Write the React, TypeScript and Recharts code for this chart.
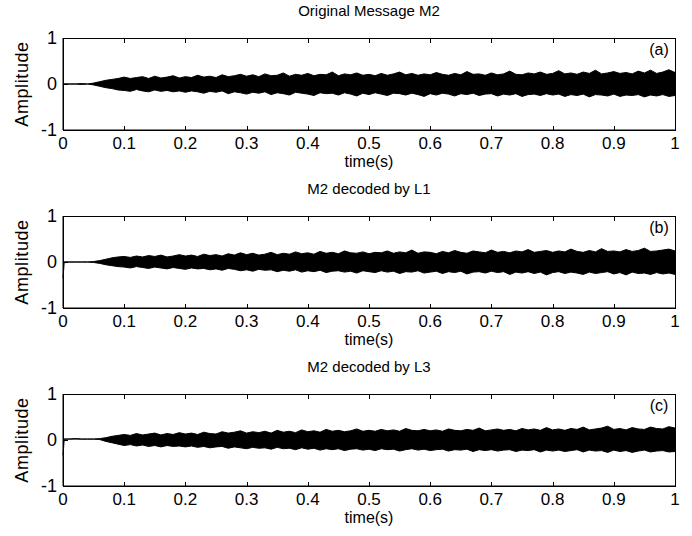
import React from 'react';
import { ComposedChart, Area, XAxis, YAxis } from 'recharts';

// envelope of the signal, one value every 0.01 s (t = 0 ... 1)
const hiA = [
  0, 0, 0, 0.01, 0, 0.02, 0.05, 0.08, 0.1, 0.12,
  0.15, 0.12, 0.14, 0.16, 0.12, 0.17, 0.13, 0.15, 0.18, 0.13,
  0.16, 0.14, 0.19, 0.15, 0.17, 0.14, 0.2, 0.16, 0.18, 0.21,
  0.17, 0.2, 0.16, 0.22, 0.18, 0.19, 0.24, 0.17, 0.21, 0.19,
  0.23, 0.18, 0.21, 0.2, 0.26, 0.18, 0.22, 0.2, 0.24, 0.19,
  0.21, 0.18, 0.23, 0.19, 0.22, 0.26, 0.2, 0.23, 0.19, 0.22,
  0.2, 0.25, 0.21, 0.19, 0.23, 0.2, 0.27, 0.21, 0.22, 0.19,
  0.24, 0.2, 0.22, 0.28, 0.21, 0.2, 0.24, 0.22, 0.26, 0.21,
  0.23, 0.29, 0.22, 0.24, 0.21, 0.26, 0.23, 0.3, 0.22, 0.24,
  0.27, 0.23, 0.25, 0.22, 0.28, 0.24, 0.3, 0.23, 0.26, 0.31,
  0.25,
];
const loA = [
  0, 0, 0, -0.01, 0, -0.02, -0.05, -0.08, -0.1, -0.13,
  -0.14, -0.16, -0.12, -0.15, -0.17, -0.13, -0.16, -0.14, -0.17, -0.15,
  -0.18, -0.15, -0.17, -0.2, -0.16, -0.18, -0.15, -0.21, -0.17, -0.19,
  -0.22, -0.18, -0.2, -0.17, -0.23, -0.19, -0.21, -0.24, -0.18, -0.2,
  -0.22, -0.25, -0.19, -0.21, -0.2, -0.24, -0.19, -0.22, -0.26, -0.2,
  -0.23, -0.19, -0.22, -0.25, -0.2, -0.21, -0.24, -0.2, -0.23, -0.27,
  -0.21, -0.24, -0.2, -0.22, -0.26, -0.21, -0.23, -0.2, -0.25, -0.22,
  -0.21, -0.26, -0.22, -0.24, -0.21, -0.27, -0.23, -0.22, -0.25, -0.21,
  -0.24, -0.22, -0.27, -0.23, -0.25, -0.22, -0.28, -0.23, -0.24, -0.26,
  -0.22, -0.27, -0.24, -0.25, -0.23, -0.28, -0.24, -0.26, -0.23, -0.27,
  -0.25,
];

const hiB = [
  0, 0, 0, 0, 0, 0.01, 0.03, 0.06, 0.09, 0.11,
  0.12, 0.1, 0.13, 0.11, 0.14, 0.12, 0.15, 0.11, 0.13, 0.16,
  0.13, 0.15, 0.12, 0.17, 0.14, 0.16, 0.13, 0.18, 0.15, 0.2,
  0.16, 0.19, 0.15, 0.17, 0.21, 0.16, 0.19, 0.17, 0.22, 0.18,
  0.2, 0.17, 0.23, 0.19, 0.21, 0.18, 0.24, 0.2, 0.19, 0.22,
  0.18, 0.21, 0.2, 0.24, 0.19, 0.22, 0.2, 0.26, 0.19, 0.22,
  0.21, 0.18, 0.23, 0.2, 0.25, 0.21, 0.19, 0.24, 0.22, 0.2,
  0.26, 0.21, 0.23, 0.2, 0.24, 0.22, 0.27, 0.21, 0.23, 0.25,
  0.21, 0.24, 0.22, 0.28, 0.23, 0.21, 0.25, 0.22, 0.29, 0.23,
  0.24, 0.22, 0.27, 0.23, 0.25, 0.3, 0.23, 0.24, 0.26, 0.28,
  0.24,
];
const loB = [
  -0.35, 0, 0, 0, 0, -0.01, -0.03, -0.06, -0.08, -0.1,
  -0.11, -0.13, -0.1, -0.12, -0.14, -0.11, -0.13, -0.15, -0.12, -0.14,
  -0.16, -0.13, -0.15, -0.14, -0.17, -0.15, -0.18, -0.14, -0.16, -0.19,
  -0.17, -0.2, -0.16, -0.18, -0.17, -0.21, -0.18, -0.2, -0.17, -0.22,
  -0.19, -0.21, -0.18, -0.23, -0.2, -0.19, -0.22, -0.2, -0.24, -0.19,
  -0.21, -0.23, -0.19, -0.22, -0.2, -0.25, -0.21, -0.22, -0.19, -0.24,
  -0.22, -0.2, -0.25, -0.21, -0.23, -0.2, -0.26, -0.22, -0.21, -0.24,
  -0.2, -0.23, -0.21, -0.27, -0.22, -0.24, -0.21, -0.25, -0.22, -0.28,
  -0.23, -0.21, -0.25, -0.22, -0.24, -0.27, -0.22, -0.25, -0.23, -0.21,
  -0.26, -0.23, -0.28, -0.22, -0.25, -0.24, -0.27, -0.23, -0.26, -0.24,
  -0.27,
];

const hiC = [
  0, 0.02, 0.03, 0.02, 0.02, 0.02, 0.03, 0.05, 0.08, 0.1,
  0.12, 0.1, 0.14, 0.11, 0.13, 0.15, 0.11, 0.14, 0.12, 0.16,
  0.13, 0.15, 0.12, 0.17, 0.14, 0.13, 0.18, 0.15, 0.17, 0.2,
  0.15, 0.18, 0.16, 0.19, 0.15, 0.21, 0.17, 0.19, 0.16, 0.22,
  0.18, 0.2, 0.17, 0.23, 0.19, 0.21, 0.18, 0.2, 0.24, 0.19,
  0.21, 0.19, 0.23, 0.2, 0.22, 0.19, 0.25, 0.21, 0.2, 0.23,
  0.2, 0.22, 0.19, 0.24, 0.21, 0.2, 0.23, 0.21, 0.26, 0.2,
  0.22, 0.24, 0.21, 0.23, 0.2, 0.25, 0.22, 0.24, 0.21, 0.27,
  0.22, 0.24, 0.21, 0.25, 0.23, 0.28, 0.22, 0.24, 0.26, 0.3,
  0.23, 0.25, 0.22, 0.27, 0.24, 0.23, 0.28, 0.25, 0.24, 0.29,
  0.26,
];
const loC = [
  -0.33, 0.02, 0.02, 0.02, 0.02, 0.02, 0.01, -0.03, -0.06, -0.09,
  -0.12, -0.1, -0.13, -0.11, -0.14, -0.12, -0.15, -0.12, -0.14, -0.13,
  -0.15, -0.13, -0.16, -0.14, -0.17, -0.15, -0.14, -0.18, -0.15, -0.17,
  -0.19, -0.16, -0.18, -0.17, -0.2, -0.16, -0.19, -0.18, -0.21, -0.17,
  -0.2, -0.18, -0.22, -0.19, -0.21, -0.19, -0.23, -0.2, -0.19, -0.22,
  -0.2, -0.23, -0.19, -0.21, -0.2, -0.24, -0.21, -0.19, -0.22, -0.2,
  -0.23, -0.21, -0.2, -0.24, -0.21, -0.22, -0.2, -0.25, -0.21, -0.23,
  -0.21, -0.24, -0.22, -0.21, -0.25, -0.22, -0.23, -0.21, -0.26, -0.22,
  -0.24, -0.22, -0.25, -0.23, -0.21, -0.26, -0.22, -0.24, -0.23, -0.27,
  -0.22, -0.25, -0.23, -0.27, -0.24, -0.22, -0.26, -0.24, -0.23, -0.26,
  -0.25,
];

const xTicks = [0, 0.1, 0.2, 0.3, 0.4, 0.5, 0.6, 0.7, 0.8, 0.9, 1];
const yTicks = [-1, 0, 1];

const FONT = '"Liberation Sans", Arial, sans-serif';

// plot box geometry
const LEFT = 63;
const RIGHT = 675;
const BOX_W = RIGHT - LEFT;
const BOX_H = 92;
const CHART_H = 178;

const buildData = (hi: number[], lo: number[]) => {
  const rows = hi.map((h, i) => ({ t: i / 100, range: [lo[i], h] }));
  // the start-up spike is a single sample, keep it narrow
  if (lo[0] < -0.1) {
    rows.splice(1, 0, { t: 0.002, range: [lo[1], hi[1]] });
  }
  return rows;
};

const BottomTick = (props: any) => {
  const { x, y, payload } = props;
  return (
    <text x={x} y={y + 13} textAnchor="middle" dominantBaseline="central" fontSize={17} fontFamily={FONT} fill="#000">
      {String(payload.value)}
    </text>
  );
};

const LeftTick = (props: any) => {
  const { x, y, payload } = props;
  return (
    <text x={x - 6} y={y} textAnchor="end" dominantBaseline="central" fontSize={18} fontFamily={FONT} fill="#000">
      {String(payload.value)}
    </text>
  );
};

// axes frame with MATLAB-style inward ticks, laid over the plot box
const Frame: React.FC<{ top: number }> = ({ top }) => {
  const mark = (l: number, t: number, w: number, h: number, key: string) => (
    <div key={key} style={{ position: 'absolute', left: l, top: t, width: w, height: h, background: '#000' }} />
  );
  return (
    <>
      <div
        style={{
          position: 'absolute',
          left: LEFT,
          top,
          width: BOX_W + 1,
          height: BOX_H + 1,
          border: '1px solid #000',
          boxSizing: 'border-box',
          pointerEvents: 'none',
        }}
      />
      {xTicks.map((v) => mark(Math.round(LEFT + v * BOX_W), top, 1, 5, `t${v}`))}
      {xTicks.map((v) => mark(Math.round(LEFT + v * BOX_W), top + BOX_H - 4, 1, 5, `b${v}`))}
      {yTicks.map((v) => mark(LEFT, Math.round(top + BOX_H / 2 - (v * BOX_H) / 2), 5, 1, `l${v}`))}
      {yTicks.map((v) => mark(RIGHT - 4, Math.round(top + BOX_H / 2 - (v * BOX_H) / 2), 5, 1, `r${v}`))}
    </>
  );
};

interface PanelProps {
  top: number;
  title: string;
  tag: string;
  hi: number[];
  lo: number[];
}

const Panel: React.FC<PanelProps> = ({ top, title, tag, hi, lo }) => {
  const data = buildData(hi, lo);
  const chartTop = top - 38;
  const mid = (LEFT + RIGHT) / 2;
  return (
    <>
      <div style={{ position: 'absolute', left: 0, top: chartTop }}>
        <ComposedChart
          width={692}
          height={CHART_H}
          data={data}
          margin={{ top: 38, left: LEFT - 40, right: 692 - RIGHT, bottom: CHART_H - 38 - BOX_H - 30 }}
        >
          <XAxis
            dataKey="t"
            type="number"
            domain={[0, 1]}
            ticks={xTicks}
            height={30}
            tickSize={0}
            tickMargin={0}
            tickLine={false}
            tick={<BottomTick />}
            axisLine={{ stroke: '#000' }}
            interval={0}
          />
          <YAxis
            type="number"
            domain={[-1, 1]}
            ticks={yTicks}
            width={40}
            tickSize={0}
            tickMargin={0}
            tickLine={false}
            tick={<LeftTick />}
            axisLine={{ stroke: '#000' }}
            interval={0}
          />
          <Area
            type="linear"
            dataKey="range"
            stroke="#000"
            strokeWidth={1}
            fill="#000"
            fillOpacity={1}
            dot={false}
            activeDot={false}
            isAnimationActive={false}
          />
        </ComposedChart>
      </div>
      <Frame top={top} />
      <div style={{ position: 'absolute', left: mid, top: top - 28, transform: 'translate(-50%, -50%)', fontSize: 15, fontFamily: FONT, whiteSpace: 'nowrap' }}>
        {title}
      </div>
      <div style={{ position: 'absolute', left: mid, top: top + BOX_H + 32, transform: 'translate(-50%, -50%)', fontSize: 16, fontFamily: FONT, whiteSpace: 'nowrap' }}>
        time(s)
      </div>
      <div style={{ position: 'absolute', left: 22, top: top + BOX_H / 2, transform: 'translate(-50%, -50%) rotate(-90deg)', fontSize: 18, letterSpacing: 0.6, fontFamily: FONT, whiteSpace: 'nowrap' }}>
        Amplitude
      </div>
      <div style={{ position: 'absolute', left: 659, top: top + 12, transform: 'translate(-50%, -50%)', fontSize: 16, fontFamily: FONT, whiteSpace: 'nowrap' }}>
        {tag}
      </div>
    </>
  );
};

export default function App() {
  return (
    <div style={{ position: 'absolute', left: 0, top: 0, width: 692, height: 536, background: '#fff' }}>
      <Panel top={38} title="Original Message M2" tag="(a)" hi={hiA} lo={loA} />
      <Panel top={216} title="M2 decoded by L1" tag="(b)" hi={hiB} lo={loB} />
      <Panel top={394} title="M2 decoded by L3" tag="(c)" hi={hiC} lo={loC} />
    </div>
  );
}
